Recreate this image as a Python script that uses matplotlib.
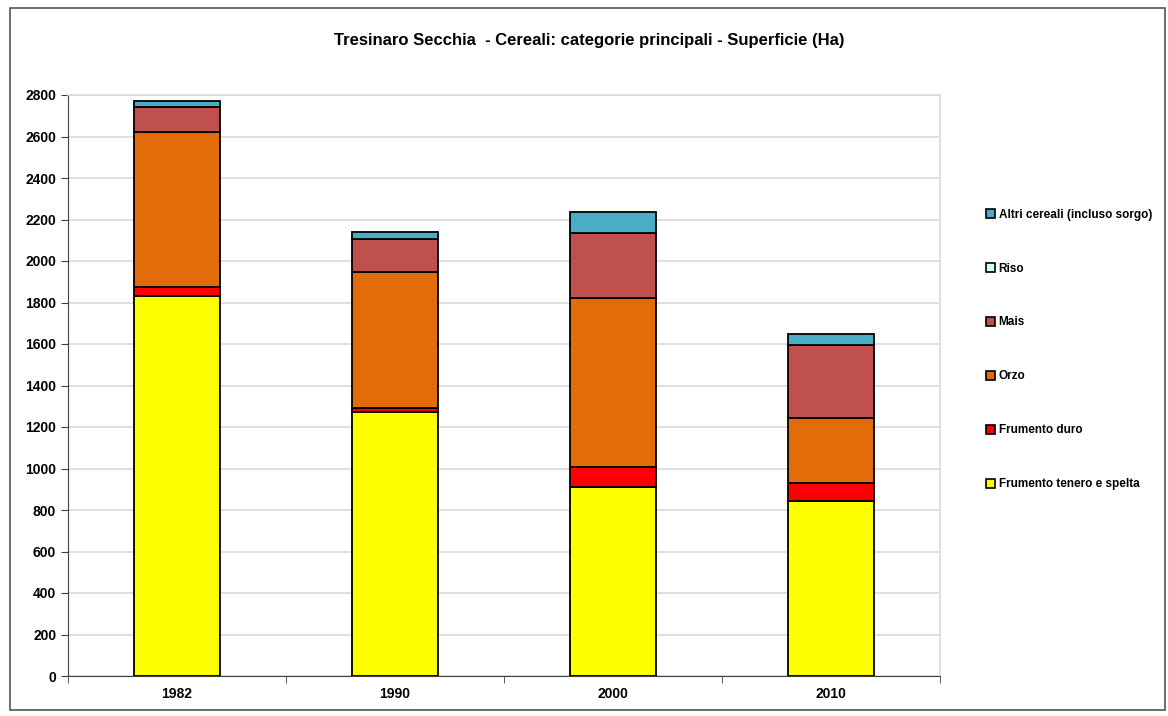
import numpy as np
import matplotlib
matplotlib.use('Agg')
import matplotlib.pyplot as plt
from matplotlib.patches import Rectangle

plt.rcParams['font.family'] = ['Liberation Sans Narrow', 'Liberation Sans', 'DejaVu Sans']
plt.rcParams['font.weight'] = 'bold'

years = ['1982', '1990', '2000', '2010']
categorie = ['Frumento tenero e spelta', 'Frumento duro', 'Orzo', 'Mais', 'Riso',
             'Altri cereali (incluso sorgo)']
frumento_tenero = [1832, 1273, 911, 843]
frumento_duro = [43, 19, 98, 87]
orzo = [747, 654, 811, 313]
mais = [120, 159, 317, 354]
riso = [0, 0, 0, 0]
altri = [30, 37, 98, 51]
colori = ['#FFFF00', '#FF0000', '#E36C0A', '#C0504D', '#CCFFFF', '#4BACC6']

serie = [frumento_tenero, frumento_duro, orzo, mais, riso, altri]

fig = plt.figure(figsize=(11.68, 7.16), dpi=100)
ax = fig.add_axes([68/1168, 1-676/716, (940-68)/1168, (676-95)/716])

x = np.arange(len(years))
bottom = np.zeros(len(years))
handles = []
for vals, lab, col in zip(serie, categorie, colori):
    vals = np.array(vals, dtype=float)
    ax.bar(x, vals, 0.395, bottom=bottom, color=col, edgecolor='black', linewidth=1.3,
           zorder=3)
    handles.append(Rectangle((0, 0), 1, 1, facecolor=col, edgecolor='black', linewidth=1.2, label=lab))
    bottom += vals

ax.set_xlim(-0.5, 3.5)
ax.set_ylim(0, 2800)
ax.set_yticks(np.arange(0, 2801, 200))
ax.set_xticks(x)
ax.set_xticklabels(years)
ax.set_xticks(np.arange(-0.5, 3.6, 1), minor=True)
ax.tick_params(axis='x', which='major', length=0, pad=8, labelsize=10)
ax.tick_params(axis='x', which='minor', length=5, direction='out', color='#404040')
ax.tick_params(axis='y', length=5, direction='out', color='#404040', labelsize=10)
for lab in ax.get_xticklabels() + ax.get_yticklabels():
    lab.set_fontweight('bold')
ax.grid(axis='y', color='#D9D9D9', linewidth=1.2, zorder=0)
for side in ['top', 'right']:
    ax.spines[side].set_color('#D9D9D9')
    ax.spines[side].set_linewidth(1.2)
ax.spines['left'].set_color('#404040')
ax.spines['bottom'].set_color('#404040')

fig.text(589/1168, 1-40/716, 'Tresinaro Secchia  - Cereali: categorie principali - Superficie (Ha)',
         ha='center', va='center', fontsize=12, fontweight='bold')

leg = fig.legend(handles[::-1], categorie[::-1], loc='upper left',
                 bbox_to_anchor=(975/1168, 1-198/716), frameon=False,
                 handlelength=0.8, handleheight=0.8, handletextpad=0.3,
                 labelspacing=3.55, prop={'size': 8.5, 'weight': 'bold'})

fig.patches.append(Rectangle((10/1168, 1-710/716), 1155/1168, 702/716, transform=fig.transFigure,
                             fill=False, edgecolor='#555555', linewidth=1.2))

fig.savefig('out.png', dpi=100)
